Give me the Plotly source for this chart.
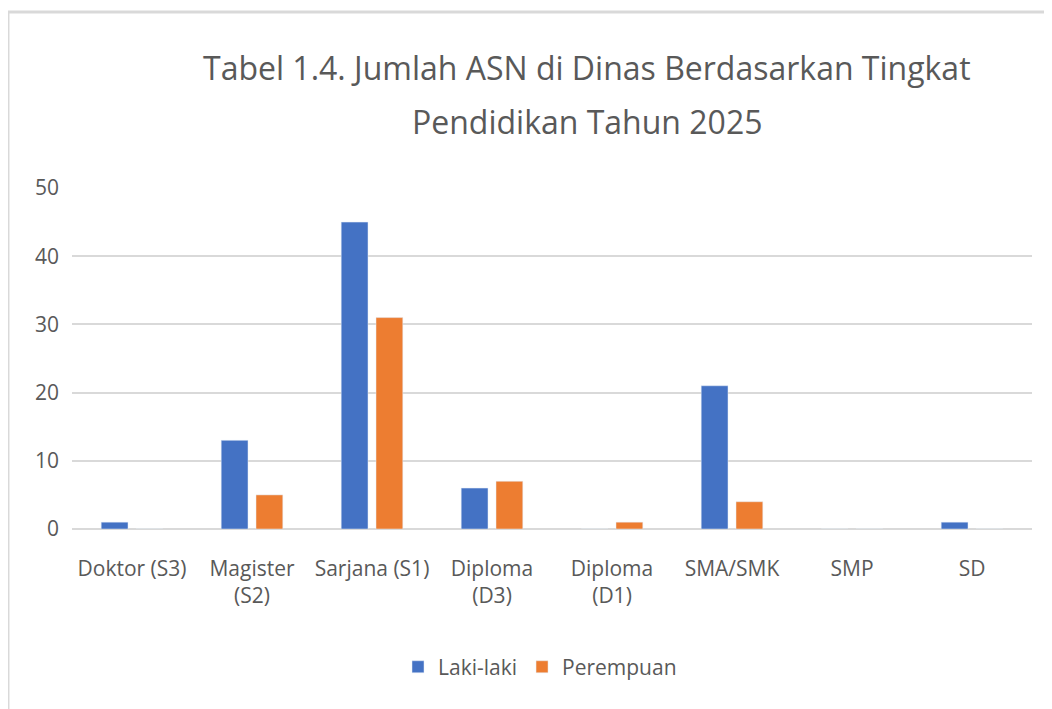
import plotly.graph_objects as go

categories = ["Doktor (S3)", "Magister<br>(S2)", "Sarjana (S1)", "Diploma<br>(D3)",
              "Diploma<br>(D1)", "SMA/SMK", "SMP", "SD"]
laki_laki = [1, 13, 45, 6, 0, 21, 0, 1]
perempuan = [0, 5, 31, 7, 1, 4, 0, 0]
title_lines = ["Tabel 1.4. Jumlah ASN di Dinas Berdasarkan Tingkat", "Pendidikan Tahun 2025"]

font_family = "Open Sans, sans-serif"
gray_text = "#595959"

fig = go.Figure()
fig.add_trace(go.Bar(x=categories, y=laki_laki, name="Laki-laki", marker_color="#4472c4"))
fig.add_trace(go.Bar(x=categories, y=perempuan, name="Perempuan", marker_color="#ed7d31"))

# title as two annotations so the line spacing can match the original
for line, ypos in zip(title_lines, [1.352, 1.194]):
    fig.add_annotation(text=line, xref="paper", yref="paper", x=0.536, y=ypos,
                       xanchor="center", yanchor="middle", showarrow=False,
                       font=dict(size=32, color=gray_text, family=font_family))

# page has an 8px body margin, so figure coords are page coords minus 8
fig.update_layout(
    width=1052, height=709,
    paper_bgcolor="white", plot_bgcolor="white",
    font=dict(family=font_family, color=gray_text, size=21),
    barmode="group", bargap=0.42, bargroupgap=0.23,
    margin=dict(l=64, r=28, t=180, b=188),
    showlegend=True,
    legend=dict(orientation="h", x=0.4875, xanchor="center", y=-0.405, yanchor="middle",
                font=dict(size=21, color=gray_text), itemwidth=30),
    shapes=[dict(type="rect", xref="paper", yref="paper", x0=-0.0667, x1=1.2, y0=-1, y1=1.516,
                 line=dict(color="#d9d9d9", width=3), fillcolor="rgba(0,0,0,0)", layer="below")],
)
fig.update_yaxes(range=[0, 50], dtick=10, showgrid=True, gridcolor="#d9d9d9", gridwidth=2,
                 zeroline=True, zerolinecolor="#d9d9d9", zerolinewidth=2,
                 showline=False, ticklabelstandoff=12, tickfont=dict(size=21, color=gray_text))
fig.update_xaxes(showline=False, ticklabelstandoff=25, tickfont=dict(size=21, color=gray_text))

fig.write_html("out.html")
